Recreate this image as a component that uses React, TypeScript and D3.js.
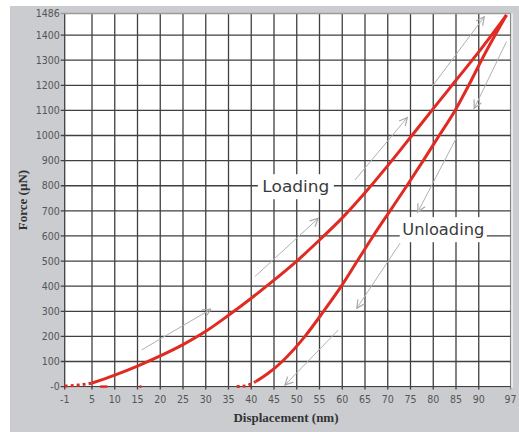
import React, { useEffect, useRef } from "react";
import * as d3 from "d3";

// loading curve (nm, µN)
const loadDisp = [-1, 2, 5, 10, 15, 20, 25, 30, 35, 40, 45, 50, 55, 60, 65, 70, 75, 80, 85, 90, 96.1];
const loadForce = [2, 6, 14, 46, 82, 122, 167, 220, 284, 352, 424, 500, 584, 672, 772, 880, 993, 1107, 1220, 1333, 1480];

// unloading curve
const unloadDisp = [36.8, 38.5, 41, 43.5, 46.8, 51.8, 55.9, 59.8, 63.3, 66.8, 70.5, 74.2, 77.8, 81.3, 84.8, 87.8, 90.6, 93.6, 96.1];
const unloadForce = [0, 2, 20, 50, 100, 200, 300, 400, 500, 600, 700, 800, 900, 1000, 1100, 1200, 1300, 1400, 1480];

// short stray marks on the baseline
const strayFrom = [6.8, 15.4];
const strayTo = [8.4, 15.9];

// direction arrows [x1, f1, x2, f2], head at the second point
const arrowsUp = [
  [15.9, 146, 31.1, 308],
  [40.8, 438, 54.7, 670],
  [62.8, 823, 74.3, 1072],
  [79.7, 1194, 91.2, 1473],
];
const arrowsDown = [
  [96.1, 1374, 89.0, 1108],
  [85.2, 995, 76.6, 695],
  [72.7, 571, 63.2, 312],
  [59.1, 225, 47.4, 6],
];

const xTicks = [-1, 5, 10, 15, 20, 25, 30, 35, 40, 45, 50, 55, 60, 65, 70, 75, 80, 85, 90, 97];
const yTicks = [0, 100, 200, 300, 400, 500, 600, 700, 800, 900, 1000, 1100, 1200, 1300, 1400, 1486];

const labels = [
  { text: "Loading", x: 49.8, f: 798, w: 76, len: 67 },
  { text: "Unloading", x: 82.2, f: 627, w: 87, len: 82 },
];

const W = 519, H = 432;

export default function App() {
  const ref = useRef<SVGSVGElement>(null);

  useEffect(() => {
    const svg = d3.select(ref.current);
    svg.selectAll("*").remove();

    const x = d3.scaleLinear().domain([-1, 97]).range([64.7, 510.6]);
    const y = d3.scaleLinear().domain([0, 1486]).range([386.6, 13.5]);

    const defs = svg.append("defs");
    defs.append("marker")
      .attr("id", "head")
      .attr("viewBox", "0 0 10 10")
      .attr("refX", 9).attr("refY", 5)
      .attr("markerWidth", 10).attr("markerHeight", 10)
      .attr("markerUnits", "userSpaceOnUse")
      .attr("orient", "auto")
      .append("path")
      .attr("d", "M1,1 L9,5 L1,9")
      .attr("fill", "none")
      .attr("stroke", "#a8a8a8")
      .attr("stroke-width", 1.2);

    // panel
    svg.append("rect").attr("x", 10).attr("y", 6).attr("width", W - 10).attr("height", H - 6).attr("fill", "#caccd0");
    svg.append("rect").attr("x", x(-1)).attr("y", y(1486)).attr("width", x(97) - x(-1) + 2).attr("height", y(0) - y(1486) + 1).attr("fill", "#fff");

    // grid
    svg.append("g").selectAll("line").data(xTicks).join("line")
      .attr("x1", d => x(d)).attr("x2", d => x(d))
      .attr("y1", y(1486)).attr("y2", y(0) + 3)
      .attr("stroke", d => d === 97 ? "#8a8a8a" : "#404040")
      .attr("stroke-width", 1.3);
    svg.append("g").selectAll("line").data(yTicks).join("line")
      .attr("x1", x(-1) - 4).attr("x2", x(97))
      .attr("y1", d => y(d)).attr("y2", d => y(d))
      .attr("stroke", d => d === 1486 ? "#9a9a9a" : "#404040")
      .attr("stroke-width", 1.3);

    // tick labels
    svg.append("g").selectAll("text").data(yTicks).join("text")
      .attr("x", x(-1) - 5).attr("y", d => y(d)).attr("dy", "0.35em")
      .attr("text-anchor", "end")
      .attr("font-family", "'DejaVu Sans Condensed', 'DejaVu Sans'")
      .attr("font-size", 10.5).attr("fill", "#555")
      .text(d => d === 0 ? "-0" : String(d));
    svg.append("g").selectAll("text").data(xTicks).join("text")
      .attr("x", d => x(d)).attr("y", 403)
      .attr("text-anchor", "middle")
      .attr("font-family", "'DejaVu Sans Condensed', 'DejaVu Sans'")
      .attr("font-size", 10.5).attr("fill", "#555")
      .text(d => String(d));

    // axis titles
    svg.append("text")
      .attr("transform", `translate(27,200) rotate(-90)`)
      .attr("text-anchor", "middle")
      .attr("font-family", "'Liberation Serif', serif").attr("font-weight", "bold")
      .attr("font-size", 13).attr("fill", "#333")
      .text("Force (µN)");
    svg.append("text")
      .attr("x", 286).attr("y", 422)
      .attr("text-anchor", "middle")
      .attr("font-family", "'Liberation Serif', serif").attr("font-weight", "bold")
      .attr("font-size", 13).attr("fill", "#333")
      .text("Displacement (nm)");

    // labels with white boxes
    labels.forEach(l => {
      svg.append("rect")
        .attr("x", x(l.x) - l.w / 2).attr("y", y(l.f) - 12)
        .attr("width", l.w).attr("height", 25).attr("fill", "#fff");
      svg.append("text")
        .attr("x", x(l.x)).attr("y", y(l.f)).attr("dy", "0.36em")
        .attr("text-anchor", "middle")
        .attr("font-family", "'DejaVu Sans', sans-serif")
        .attr("font-size", 16.5).attr("fill", "#3a3a3a")
        .attr("textLength", l.len).attr("lengthAdjust", "spacingAndGlyphs")
        .text(l.text);
    });

    // arrows
    svg.append("g").selectAll("line").data([...arrowsUp, ...arrowsDown]).join("line")
      .attr("x1", d => x(d[0])).attr("y1", d => y(d[1]))
      .attr("x2", d => x(d[2])).attr("y2", d => y(d[3]))
      .attr("stroke", "#b0b0b0").attr("stroke-width", 1)
      .attr("marker-end", "url(#head)");

    const red = "#e02a22";
    const path = d3.line().curve(d3.curveMonotoneX);

    const lp = loadDisp.map((d, i) => [x(d), y(loadForce[i])] as [number, number]);
    const up = unloadDisp.map((d, i) => [x(d), y(unloadForce[i])] as [number, number]);

    // dotted toes
    svg.append("path").attr("d", path(lp.slice(0, 3)))
      .attr("fill", "none").attr("stroke", red).attr("stroke-width", 3)
      .attr("stroke-dasharray", "3,3");
    svg.append("path").attr("d", path(up.slice(0, 3)))
      .attr("fill", "none").attr("stroke", red).attr("stroke-width", 3)
      .attr("stroke-dasharray", "3,3");

    svg.append("path").attr("d", path(lp.slice(2)))
      .attr("fill", "none").attr("stroke", red).attr("stroke-width", 3)
      .attr("stroke-linejoin", "round");
    svg.append("path").attr("d", path(up.slice(2)))
      .attr("fill", "none").attr("stroke", red).attr("stroke-width", 3)
      .attr("stroke-linejoin", "round");

    svg.append("g").selectAll("line").data(strayFrom).join("line")
      .attr("x1", d => x(d)).attr("x2", (d, i) => x(strayTo[i]))
      .attr("y1", y(0)).attr("y2", y(0))
      .attr("stroke", red).attr("stroke-width", 2.5);
  }, []);

  return (
    <svg ref={ref} width={W} height={H}
      style={{ position: "absolute", left: 0, top: 0, background: "#fff" }} />
  );
}
